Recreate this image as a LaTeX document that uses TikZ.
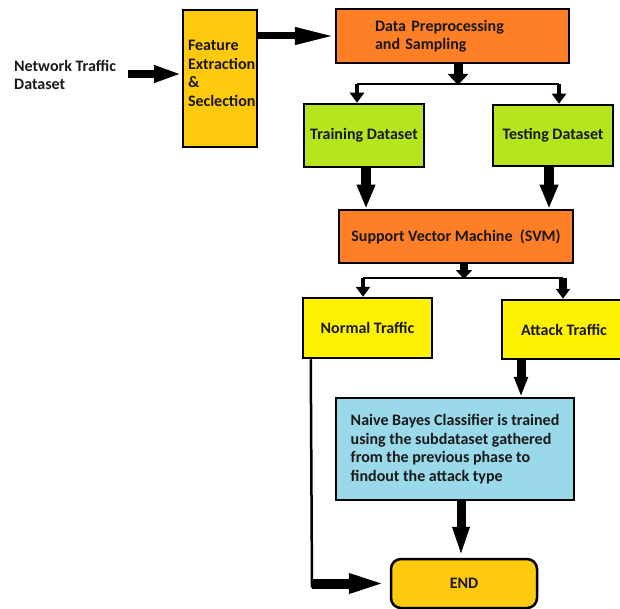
\documentclass[tikz,border=0pt]{standalone}
\usepackage{fontspec}
\setmainfont{Carlito}
\usetikzlibrary{arrows.meta}
\definecolor{cgold}{HTML}{FFC90E}
\definecolor{corange}{HTML}{FF7F27}
\definecolor{clime}{HTML}{B5E61D}
\definecolor{cyel}{HTML}{FFF200}
\definecolor{cblue}{HTML}{99D9EA}
\begin{document}
\begin{tikzpicture}[x=1pt,y=-1pt,
  txt/.style={font=\bfseries\fontsize{16}{18.5}\selectfont, text=black!90},
  box/.style={txt, draw=black, line width=2.5pt, inner sep=0pt, align=center},
  thinline/.style={line width=2.5pt},
  arrA/.style={line width=8pt, -{Triangle[length=28pt,width=16pt]}},
  arrB/.style={line width=7pt, -{Triangle[length=40pt,width=16pt]}},
  arrC/.style={line width=9pt, -{Triangle[length=11pt,width=20pt]}},
  arrCs/.style={line width=8pt, -{Triangle[length=9pt,width=16pt]}},
  arrD/.style={line width=4pt, -{Triangle[length=10pt,width=14pt]}},
  arrE/.style={line width=10pt, -{Triangle[length=24pt,width=17pt]}},
  arrF/.style={line width=9pt, -{Triangle[length=20pt,width=13pt]}},
  arrG/.style={line width=9pt, -{Triangle[length=31pt,width=15pt]}},
  arrH/.style={line width=10pt, -{Triangle[length=41pt,width=17pt]}}]
\useasboundingbox (0,0) rectangle (620,609);

\node[txt, anchor=west, align=left, inner sep=0pt] (net) at (14,75) {Network Traffic\\Dataset};
\node[box, fill=cgold, minimum height=137pt, inner xsep=5pt, text width=64pt, align=left] (feat) at (220,78.5) {Feature\\Extraction\\\&\\Seclection\\[-8pt]\mbox{}};
\node[box, fill=corange, minimum height=54pt, inner xsep=39pt, text width=155pt, align=left] (prep) at (452.5,36) {Data Preprocessing\\and Sampling};
\node[box, fill=clime, minimum width=120pt, minimum height=63pt] (train) at (364,135.5) {Training Dataset};
\node[box, fill=clime, minimum width=120pt, minimum height=61pt] (test) at (553,135.5) {Testing Dataset};
\node[box, fill=corange, minimum width=234pt, minimum height=53pt] (svm) at (456,236.5) {Support Vector Machine~~(SVM)};
\node[box, fill=cyel, minimum width=129pt, minimum height=60pt] (normal) at (367.5,328) {Normal Traffic};
\node[box, fill=cyel, minimum width=124pt, minimum height=59pt] (attack) at (564,329.5) {Attack Traffic};
\node[box, fill=cblue, minimum width=238pt, minimum height=102pt, align=left] (nb) at (455,449) {Naive Bayes Classifier is trained\\using the subdataset gathered\\from the previous phase to\\findout the attack type};
\node[box, fill=cgold, minimum width=146pt, minimum height=49pt, rounded corners=10pt] (endn) at (464,583.5) {END};

\coordinate (a0) at (128,74);
\draw[arrA] (a0) -- (a0 -| feat.west);
\draw[arrB] (feat.east |- prep.west) -- (prep.west);

\coordinate (s1) at (458,84);
\coordinate (s1l) at (357,84);
\coordinate (s1r) at (559,84);
\draw[thinline] (s1l) -- (s1r);
\draw[arrC] (prep.south -| s1) -- ([yshift=-1pt]s1);
\draw[arrD] (s1l) -- (s1l |- train.north);
\draw[arrD] (s1r) -- (s1r |- test.north);

\draw[arrE] ([xshift=2pt]train.south) -- ([xshift=2pt]train.south |- svm.north);
\draw[arrE] ([xshift=-4pt]test.south) -- ([xshift=-4pt]test.south |- svm.north);

\coordinate (s2) at (464,278);
\coordinate (s2l) at (363,278);
\coordinate (s2r) at (563,278);
\draw[thinline] (s2l) -- (s2r);
\draw[arrCs] (svm.south -| s2) -- ([yshift=-1pt]s2);
\draw[arrD] (s2l) -- (s2l |- normal.north);
\draw[line width=8pt, -{Triangle[length=10pt,width=14pt]}] (s2r) -- (s2r |- attack.north);

\draw[arrF] ([xshift=-43pt]attack.south) -- ([xshift=-43pt]attack.south |- nb.north);
\draw[arrG] ([xshift=6pt]nb.south) -- ([xshift=6pt]nb.south |- endn.north);

\coordinate (c1) at (312,583.5);
\draw[thinline] ([xshift=9pt]normal.south west) -- ([yshift=-4pt]c1);
\draw[arrH] (c1) -- (endn.west);
\end{tikzpicture}
\end{document}
